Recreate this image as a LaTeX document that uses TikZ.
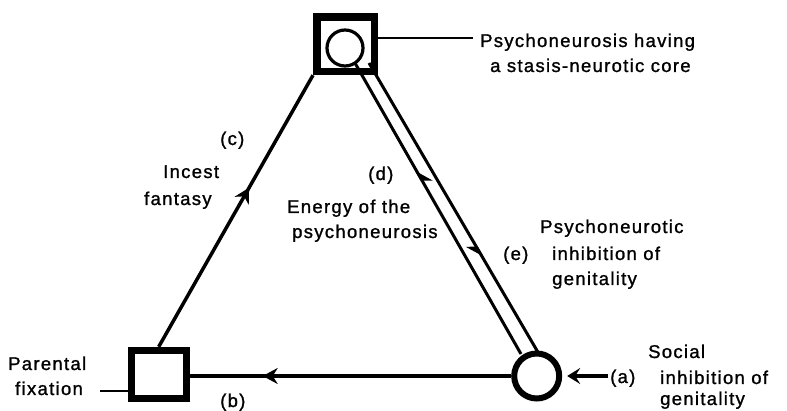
\documentclass[tikz,border=0pt]{standalone}
\usepackage{fontspec}
\setmainfont{Liberation Sans}[LetterSpace=7,FakeBold=1.2]
\usetikzlibrary{arrows.meta,decorations.markings,calc}
\begin{document}
\begin{tikzpicture}[x=1pt,y=-1pt,
  conn/.style={line width=3.5pt},
  tube/.style={line width=3pt},
  thickbox/.style={draw,rectangle,inner sep=0pt},
  ring/.style={draw,circle,inner sep=0pt,fill=white},
  lbl/.style={inner sep=0pt,anchor=base west,font=\fontsize{18.5}{25}\selectfont},
  midarr/.style={postaction={decorate,decoration={markings,
     mark=at position #1 with {\arrow{Stealth[length=15pt,width=16pt,inset=5pt]}}}}},
  midharp/.style={postaction={decorate,decoration={markings,
     mark=at position #1 with {\arrow{Stealth[length=15pt,width=18pt,inset=5pt,harpoon,swap]}}}}}
]
\useasboundingbox (0,0) rectangle (787,411);
% tube between the top circle and the bottom circle
\coordinate (dl1) at (355,63);
\coordinate (dl2) at (521,354);
\coordinate (dr1) at (369,63);
\coordinate (dr2) at (539,354);
\draw[tube,midharp=0.632] (dl2) -- (dl1);
\draw[tube,midharp=0.667] (dr1) -- (dr2);
% nodes
\node[thickbox,line width=7.5pt,minimum width=57.5pt,minimum height=54.5pt] (tsq) at (345.5,44.2) {};
\node[ring,line width=3.2pt,minimum size=36pt] (tc) at (345,48) {};
\node[thickbox,line width=7pt,minimum width=55pt,minimum height=48pt] (bl) at (158.7,374.3) {};
\node[ring,line width=6pt,minimum size=45pt] (brc) at (536.7,376) {};
% connectors
\draw[conn,midarr=0.586] (bl.north) -- (tsq.south west);
\draw[conn,midarr=0.773] (brc) -- (brc -| bl.east);
\coordinate (psyend) at (473,38);
\draw[line width=2.2pt] (psyend -| tsq.east) -- (psyend);
\coordinate (fixend) at (100,391);
\draw[line width=2.2pt] (fixend) -- (fixend -| bl.west);
\coordinate (aend) at (608,376);
\draw[line width=3.2pt,-{Stealth[length=13pt,width=16pt,inset=5pt]},shorten >=5pt] (aend) -- (aend -| brc.east);
% labels
\node[lbl] (psy1) at (480,47) {Psychoneurosis having};
\node[lbl] (psy2) at (490,72) {a stasis-neurotic core};
\node[lbl] (lc) at (220,145) {(c)};
\node[lbl] (inc1) at (163,178) {Incest};
\node[lbl] (inc2) at (144,205) {fantasy};
\node[lbl] (ld) at (368,180) {(d)};
\node[lbl] (en1) at (287,213) {Energy of the};
\node[lbl] (en2) at (292,238) {psychoneurosis};
\node[lbl] (pn1) at (540,233) {Psychoneurotic};
\node[lbl] (le) at (503,260) {(e)};
\node[lbl] (pn2) at (552,260) {inhibition of};
\node[lbl] (pn3) at (552,285) {genitality};
\node[lbl] (so1) at (648,358) {Social};
\node[lbl] (la) at (610,383) {(a)};
\node[lbl] (so2) at (660,384) {inhibition of};
\node[lbl] (so3) at (660,405) {genitality};
\node[lbl] (pa1) at (8,370) {Parental};
\node[lbl] (pa2) at (15,395) {fixation};
\node[lbl] (lb) at (220,407) {(b)};
\end{tikzpicture}
\end{document}
